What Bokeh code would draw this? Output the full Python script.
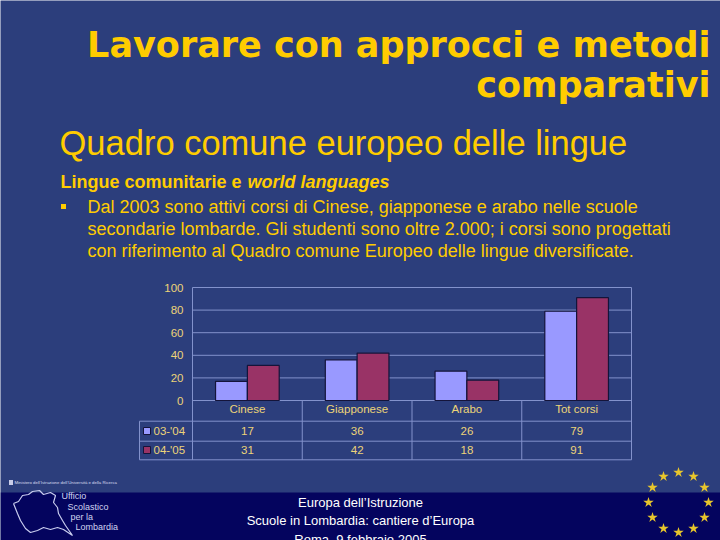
import math
from bokeh.plotting import figure
from bokeh.models import Range1d
from bokeh.core.properties import value
from bokeh.embed import file_html
from bokeh.resources import INLINE

# ---------------- data ----------------
categories = ["Cinese", "Giapponese", "Arabo", "Tot corsi"]
series_names = ["03-'04", "04-'05"]
values_0304 = [17, 36, 26, 79]
values_0405 = [31, 42, 18, 91]
y_ticks = [0, 20, 40, 60, 80, 100]

# ---------------- style ----------------
BG = "#2C3E7C"
FOOT = "#04045E"
GOLD = "#FFCC00"
CHART_TXT = "#EDD478"
GRID = "#8392CC"
C1 = "#9999FF"
C2 = "#993366"
BAR_LINE = "#14143A"
CHART_FS = 11.5

# chart plot-area placement on the slide (pixels, top-down)
FL, FR, FT, FB = 192, 631, 287, 400
W, H = 720, 540
n = len(categories)
px_per_cat = (FR - FL) / n
px_per_val = (FB - FT) / 100.0

p = figure(width=W, height=H, x_range=Range1d(0, W), y_range=Range1d(H, 0),
           output_backend="svg", toolbar_location=None, min_border=0,
           x_axis_location=None, y_axis_location=None,
           background_fill_color=BG, border_fill_color=BG, outline_line_color=None)
p.title.visible = False
p.grid.visible = False

# chart scales (category index / value) mapped onto the plot area
p.extra_x_ranges = {"cat": Range1d(-FL / px_per_cat, n + (W - FR) / px_per_cat)}
p.extra_y_ranges = {"val": Range1d(-(H - FB) / px_per_val, 100 + FT / px_per_val)}

def T(x, y, text, size, color, font="Liberation Sans", style="normal", align="left",
      baseline_px=None, **kw):
    # y given as the visual centre ("middle"); if baseline_px, y is a text baseline
    if baseline_px:
        y = [v - 0.37 * size for v in y]
    p.text(x=x, y=y, text=text, text_font=value(font), text_font_size=value(f"{size}px"),
           text_color=value(color), text_font_style=value(style), text_align=value(align),
           text_baseline=value("middle"), **kw)

# ---------------- footer band ----------------
p.quad(left=[0], right=[W], top=[492], bottom=[H], fill_color=FOOT, line_color=None)

# ---------------- chart ----------------
idx = list(range(n))
centers = [i + 0.5 for i in idx]
# grid lines
p.segment(x0=[0] * len(y_ticks), x1=[n] * len(y_ticks), y0=y_ticks, y1=y_ticks,
          x_range_name="cat", y_range_name="val", line_color=GRID, line_width=1)
# y tick labels
T([FL - 9] * len(y_ticks), y_ticks, [str(t) for t in y_ticks], CHART_FS, CHART_TXT,
  align="right", y_range_name="val")
# bars
bw = 0.29
p.vbar(x=[c - bw / 2 for c in centers], top=values_0304, bottom=0, width=bw,
       x_range_name="cat", y_range_name="val", fill_color=C1, line_color=BAR_LINE,
       line_width=1.2)
p.vbar(x=[c + bw / 2 for c in centers], top=values_0405, bottom=0, width=bw,
       x_range_name="cat", y_range_name="val", fill_color=C2, line_color=BAR_LINE,
       line_width=1.2)
# category labels
T(centers, [408] * n, categories, CHART_FS, CHART_TXT, align="center", x_range_name="cat")

# plot-area sides and table lines (category boundaries)
TB = 459.3
p.segment(x0=[0, n], x1=[0, n], y0=[FT, FT], y1=[TB, TB], x_range_name="cat",
          line_color=GRID, line_width=1)
p.segment(x0=list(range(1, n)), x1=list(range(1, n)), y0=[FB] * (n - 1),
          y1=[TB] * (n - 1), x_range_name="cat", line_color=GRID, line_width=1)
p.segment(x0=[139, 139, 139, 139], x1=[FR, FR, FR, 139], y0=[420.7, 440.7, TB, 420.7],
          y1=[420.7, 440.7, TB, TB], line_color=GRID, line_width=1)

# table rows: legend swatch + name + values
rows_y = [430.5, 449.5]
for Y, name, vals, col in zip(rows_y, series_names, [values_0304, values_0405], [C1, C2]):
    p.rect(x=[146.5], y=[Y], width=7, height=7, fill_color=col, line_color=BAR_LINE,
           line_width=1)
    T([153], [Y], [name], CHART_FS, CHART_TXT)
    T(centers, [Y] * n, [str(v) for v in vals], CHART_FS, CHART_TXT, align="center",
      x_range_name="cat")

# ---------------- slide texts ----------------
T([710], [57], ["Lavorare con approcci e metodi"], 35, GOLD, font="DejaVu Sans",
  style="bold", align="right", baseline_px=True)
T([710], [97], ["comparativi"], 35, GOLD, font="DejaVu Sans", style="bold", align="right",
  baseline_px=True)
T([59], [155], ["Quadro comune europeo delle lingue"], 34.5, GOLD, baseline_px=True)
T([60], [188], ["Lingue comunitarie e "], 18, GOLD, style="bold", baseline_px=True)
T([247], [188], ["world languages"], 18, GOLD, style="bold italic", baseline_px=True)
p.rect(x=[63], y=[206], width=5, height=5, fill_color=GOLD, line_color=None)
body = ["Dal 2003 sono attivi corsi di Cinese, giapponese e arabo nelle scuole",
        "secondarie lombarde. Gli studenti sono oltre 2.000; i corsi sono progettati",
        "con riferimento al Quadro comune Europeo delle lingue diversificate."]
T([87] * 3, [213, 235, 257], body, 18, GOLD, baseline_px=True)

# footer texts
T([360] * 3, [502, 520, 538.5],
  ["Europa dell\u2019Istruzione", "Scuole in Lombardia: cantiere d\u2019Europa",
   "Roma, 9 febbraio 2005"], 13, "white", align="center")

# ministry / office logo
T([14], [482], ["Ministero dell\u2019Istruzione dell\u2019Universit\u00e0 e della Ricerca"],
  4.3, "#D8DCF0")
p.rect(x=[10.5], y=[482], width=4, height=5, fill_color="#C8CCE8", line_color=None)
T([61, 67, 70, 75], [495, 506, 516.5, 526.5],
  ["Ufficio", "Scolastico", "per la", "Lombardia"], 9, "#D0D4F0")
map_x = [13, 18, 22, 28, 32, 39, 43, 50, 55, 53, 57, 58, 62, 65, 72, 63, 57, 50, 43, 37,
         30, 25, 20, 17, 13]
map_y = [503, 501, 495, 494, 491, 490, 494, 492, 495, 502, 507, 513, 520, 525, 535, 529,
         527, 529, 527, 530, 532, 528, 520, 513, 503]
p.line(map_x, map_y, line_color="#C8CCEE", line_width=1.2)

# EU stars
cxs, cys, rad = 678, 502, 30
sxs = [cxs + rad * math.cos(math.radians(90 - 30 * k)) for k in range(12)]
sys_ = [cys - rad * math.sin(math.radians(90 - 30 * k)) for k in range(12)]
p.scatter(sxs, sys_, marker="star", size=11, fill_color="#E8C62C", line_color=None)

html = file_html(p, INLINE)
html = html.replace("<body>", f'<body style="margin:0;background:{BG}">', 1)
open("out.html", "w").write(html)
